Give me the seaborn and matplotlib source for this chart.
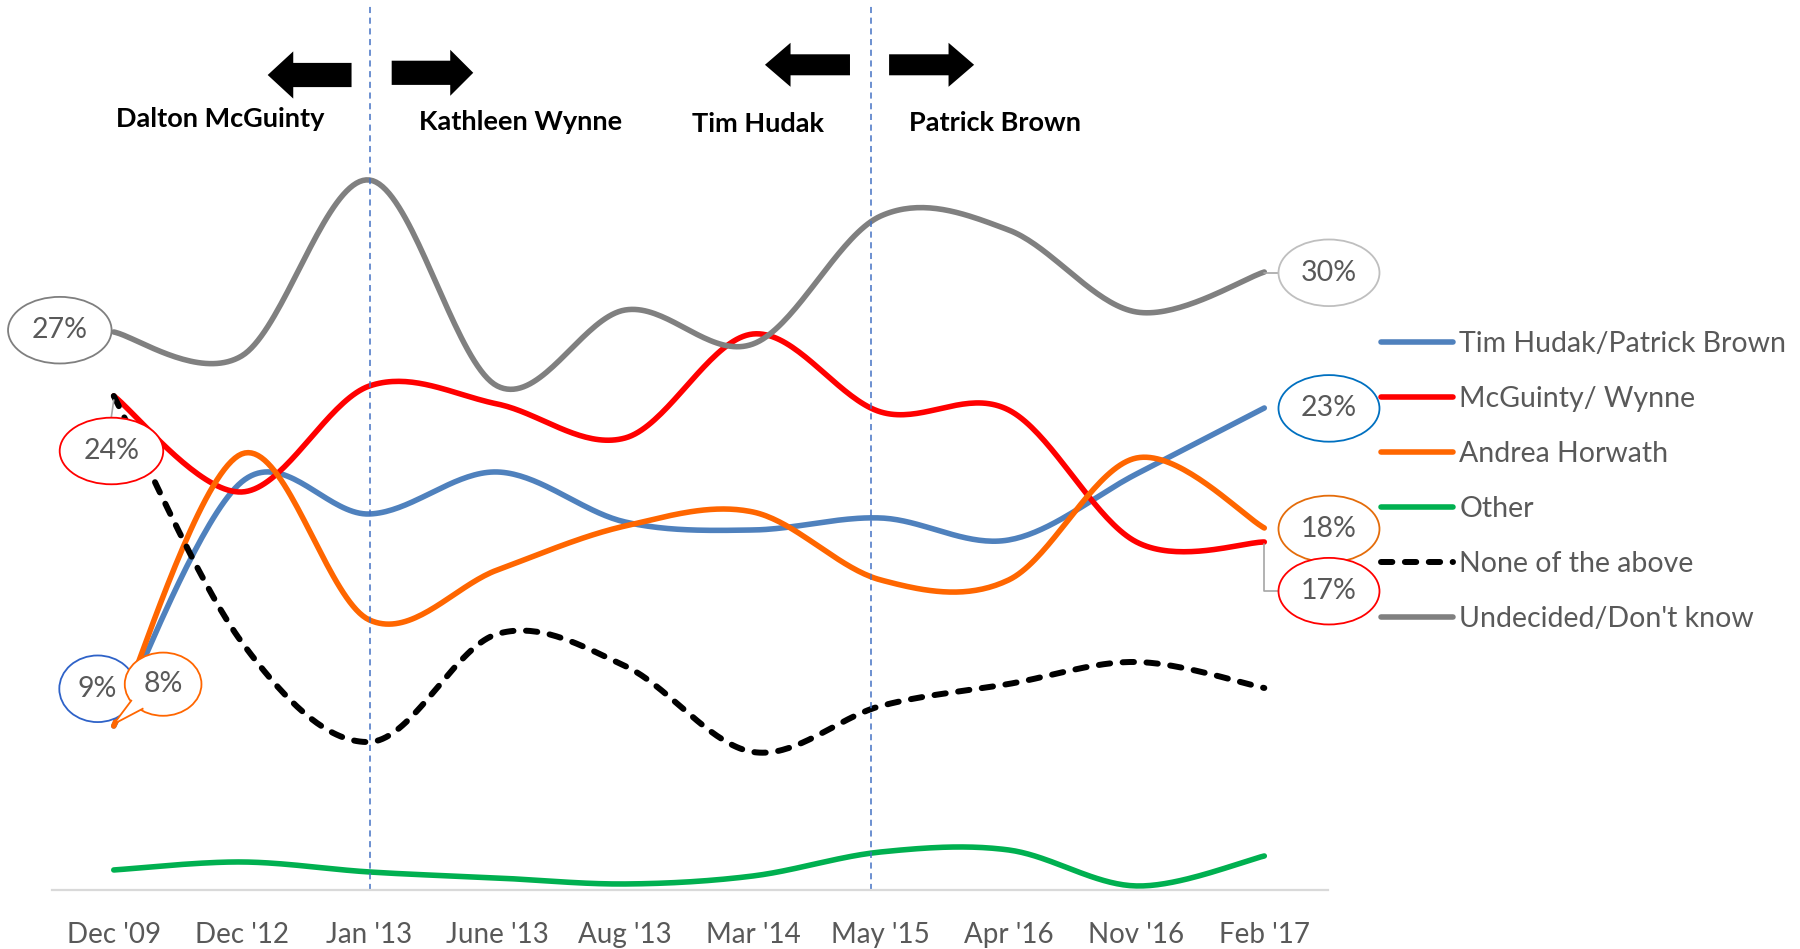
import numpy as np
import pandas as pd
import matplotlib
matplotlib.use('Agg')
import matplotlib.pyplot as plt
from matplotlib.patches import Ellipse, FancyArrow, Polygon
import seaborn as sns

# data (percent)
months = ["Dec '09", "Dec '12", "Jan '13", "June '13", "Aug '13",
          "Mar '14", "May '15", "Apr '16", "Nov '16", "Feb '17"]
hudak = [8.2, 20.4, 18.8, 20.9, 18.4, 18.0, 18.6, 17.5, 20.8, 24.1]
mcguinty = [24.7, 19.9, 25.2, 24.3, 22.6, 27.8, 23.9, 24.0, 17.4, 17.4]
horwath = [8.2, 21.8, 13.5, 16.0, 18.2, 18.9, 15.5, 15.5, 21.6, 18.1]
other = [1.0, 1.4, 0.9, 0.6, 0.3, 0.7, 1.9, 2.0, 0.2, 1.7]
none_above = [24.7, 12.4, 7.4, 12.8, 11.2, 6.9, 9.2, 10.3, 11.4, 10.1]
undecided = [27.9, 26.7, 35.5, 25.2, 29.0, 27.3, 33.7, 33.0, 28.9, 30.9]

series_names = ['Tim Hudak/Patrick Brown', 'McGuinty/ Wynne', 'Andrea Horwath',
                'Other', 'None of the above', "Undecided/Don't know"]
series_vals = [hudak, mcguinty, horwath, other, none_above, undecided]
series_colors = ['#4f81bd', '#ff0000', '#ff6600', '#00b050', '#000000', '#808080']

start_labels = ['27%', '24%', '9%', '8%']
end_labels = ['30%', '23%', '18%', '17%']

leaders = ['Dalton McGuinty', 'Kathleen Wynne', 'Tim Hudak', 'Patrick Brown']


def smooth(vals, n=40):
    # excel style smoothed line (bezier through every point)
    p = np.column_stack([np.arange(len(vals)), np.array(vals, float)])
    ext = np.vstack([p[0], p, p[-1]])
    t = np.linspace(0, 1, n)[:, None]
    out = []
    for i in range(len(p) - 1):
        p0, p1, p2, p3 = ext[i], ext[i + 1], ext[i + 2], ext[i + 3]
        c1 = p1 + (p2 - p0) / 6
        c2 = p2 - (p3 - p1) / 6
        seg = (1 - t) ** 3 * p1 + 3 * (1 - t) ** 2 * t * c1 + 3 * (1 - t) * t ** 2 * c2 + t ** 3 * p2
        out.append(seg if i == 0 else seg[1:])
    return np.vstack(out)


sns.set_theme(style='white')
plt.rcParams['font.family'] = ['Lato', 'DejaVu Sans']
txt_col = '#595959'

fig = plt.figure(figsize=(18, 9.49), dpi=100)
ax = fig.add_axes([0.0289, 0.0622, 0.709, 0.9378])

for name, vals, col in zip(series_names, series_vals, series_colors):
    curve = smooth(vals)
    df = pd.DataFrame({'x': curve[:, 0], 'y': curve[:, 1]})
    sns.lineplot(data=df, x='x', y='y', color=col, lw=4, ax=ax,
                 sort=False, estimator=None, label=name)
    if name == 'None of the above':
        ln = ax.lines[-1]
        ln.set_linewidth(4.3)
        ln.set_dashes([1.9, 2.1])
        ln.set_dash_capstyle('round')

ax.set_xlim(-0.483, 9.5)
ax.set_ylim(0, 44.5)
ax.set_xticks(range(len(months)))
ax.set_xticklabels(months, fontsize=20, color=txt_col)
ax.set_yticks([])
ax.set_xlabel('')
ax.set_ylabel('')
ax.tick_params(axis='x', length=0, pad=23)
for s in ['top', 'left', 'right']:
    ax.spines[s].set_visible(False)
ax.spines['bottom'].set_color('#d9d9d9')
ax.spines['bottom'].set_linewidth(1.6)

# leadership change markers
for xv in [2.004, 5.92]:
    ax.plot([xv, xv], [0, 44.3], color='#4472c4', lw=1.1, dashes=(4, 3))

arrows = [(1.86, 1.204, 40.75, 1.21, 2.36, 0.2),
          (2.174, 2.812, 40.86, 1.21, 2.3, 0.18),
          (5.759, 5.094, 41.26, 1.05, 2.2, 0.2),
          (6.065, 6.73, 41.26, 1.05, 2.2, 0.2)]
for x0, x1, yc, w, hw, hl in arrows:
    ax.add_patch(FancyArrow(x0, yc, x1 - x0, 0, width=w, head_width=hw, head_length=hl,
                            length_includes_head=True, color='black', lw=0))

name_pos = [(0.836, 38.56), (3.18, 38.39), (5.04, 38.28), (6.89, 38.33)]
for (xp, yp), nm in zip(name_pos, leaders):
    ax.text(xp, yp, nm, ha='center', va='center', fontsize=19.5, fontweight='bold',
            color='black')

# data label bubbles
bubbles = [(-0.422, 27.99, 0.81, 3.33, '#7f7f7f', start_labels[0]),
           (-0.018, 21.95, 0.81, 3.33, '#ff0000', start_labels[1]),
           (-0.126, 10.06, 0.6, 3.33, '#2e62c8', start_labels[2]),
           (9.506, 30.86, 0.79, 3.33, '#bfbfbf', end_labels[0]),
           (9.506, 24.08, 0.79, 3.33, '#0070c0', end_labels[1]),
           (9.506, 18.05, 0.79, 3.33, '#e46c0a', end_labels[2]),
           (9.506, 14.94, 0.79, 3.33, '#ff0000', end_labels[3])]
for xc, yc, w, h, ec, lab in bubbles:
    ax.add_patch(Ellipse((xc, yc), w, h, facecolor='white', edgecolor=ec, lw=1.3,
                         clip_on=False, zorder=5))
    ax.text(xc, yc, lab, ha='center', va='center', fontsize=20.5, color=txt_col,
            zorder=6, clip_on=False)

# orange callout with tail
ax.add_patch(Ellipse((0.386, 10.29), 0.6, 3.16, facecolor='white', edgecolor='#ff6600',
                     lw=1.3, zorder=7))
ax.add_patch(Polygon([(0.141, 9.5), (0.0, 8.3), (0.232, 9.08)], closed=False,
                     facecolor='white', edgecolor='#ff6600', lw=1.3, zorder=7))
ax.text(0.386, 10.29, '8%', ha='center', va='center', fontsize=20.5, color=txt_col, zorder=8)

# leader lines
ax.plot([0.0, -0.02], [24.5, 23.6], color='#a6a6a6', lw=1.2, zorder=4)
ax.plot([9.0, 9.11], [30.86, 30.86], color='#a6a6a6', lw=1.2, zorder=4, clip_on=False)
ax.plot([9.0, 9.0, 9.11], [17.3, 14.94, 14.94], color='#a6a6a6', lw=1.2, zorder=4,
        clip_on=False)

ax.get_legend().remove()
handles = ax.lines[:6]
leg = fig.legend(handles, series_names, loc='upper left', bbox_to_anchor=(0.767, 0.651),
                 frameon=False, fontsize=20.5, handlelength=2.55, handletextpad=0.22,
                 labelspacing=1.02, borderpad=0, borderaxespad=0)
for t in leg.get_texts():
    t.set_color(txt_col)

fig.savefig('out.png', dpi=100)
